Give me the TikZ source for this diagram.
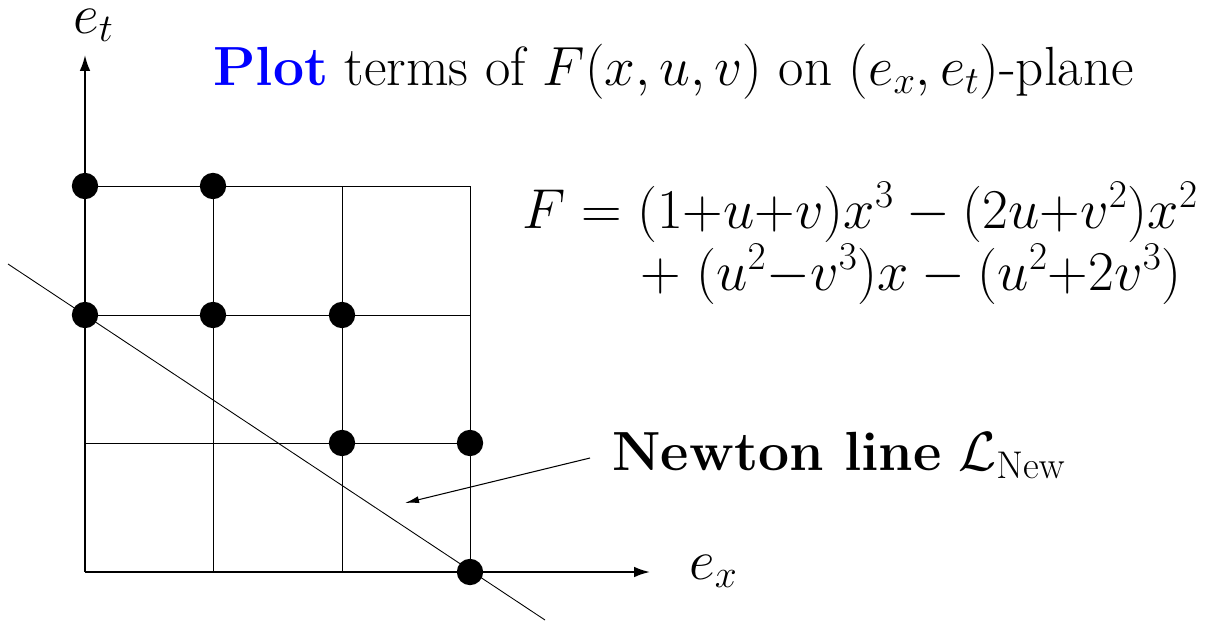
\RequirePackage{fix-cm}
\documentclass[tikz,border=0pt]{standalone}
\usetikzlibrary{arrows.meta}
\begin{document}
\begin{tikzpicture}[x=0.02cm,y=-0.02cm,
  grid/.style={line width=0.5pt},
  axis/.style={line width=1.1pt,-{Latex[length=9pt,width=6pt]}},
  dot/.style={circle,fill=black,inner sep=0pt,minimum size=15pt},
  big/.style={inner sep=0pt,font=\fontsize{32}{38}\selectfont},
  mid/.style={inner sep=0pt,font=\fontsize{31.4}{37}\selectfont},
  ptr/.style={line width=0.6pt,-{Latex[length=8pt,width=4pt]}}]
\useasboundingbox (0,0) rectangle (1215,623);
% grid
\foreach \x in {213,342,470} \draw[grid] (\x,572) -- (\x,186);
\foreach \y in {186,315,443} \draw[grid] (85,\y) -- (470,\y);
% axes
\coordinate (O) at (85,572);
\coordinate (xe) at (650,572);
\coordinate (ye) at (85,55);
\draw[axis] (O) -- (xe);
\draw[axis] (O) -- (ye);
\node[big,anchor=base west] (et) at (73,33) {$e_t$};
\node[big,anchor=base west] (ex) at (689,579) {$e_x$};
% Newton line
\coordinate (n1) at (8,264);
\coordinate (n2) at (545,620);
\draw[grid] (n1) -- (n2);
% dots
\node[dot] (d03) at (85,186) {};
\node[dot] (d13) at (213,186) {};
\node[dot] (d02) at (85,315) {};
\node[dot] (d12) at (213,315) {};
\node[dot] (d22) at (342,315) {};
\node[dot] (d21) at (342,443) {};
\node[dot] (d31) at (470,443) {};
\node[dot] (d30) at (470,572) {};
% title
\node[mid,anchor=base west] (title) at (213,85) {\textcolor{blue}{\textbf{Plot}} terms of $F(x,u,v)$ on $(e_x,e_t)$-plane};
% formula
\node[big,anchor=base west] (f1) at (522,228) {$F=(1{+}u{+}v)x^3-(2u{+}v^2)x^2$};
\node[big,anchor=base west] (f2) at (640,290) {$+\;(u^2{-}v^3)x-(u^2{+}2v^3)$};
% label
\node[mid,anchor=base west] (nl) at (612,470) {\textbf{Newton line} $\mathcal{L}_{\mathrm{New}}$};
\coordinate (tip) at (405,503);
\draw[ptr] (nl.west |- 0,458) ++(-22,0) coordinate (src) -- (tip);
\end{tikzpicture}
\end{document}
